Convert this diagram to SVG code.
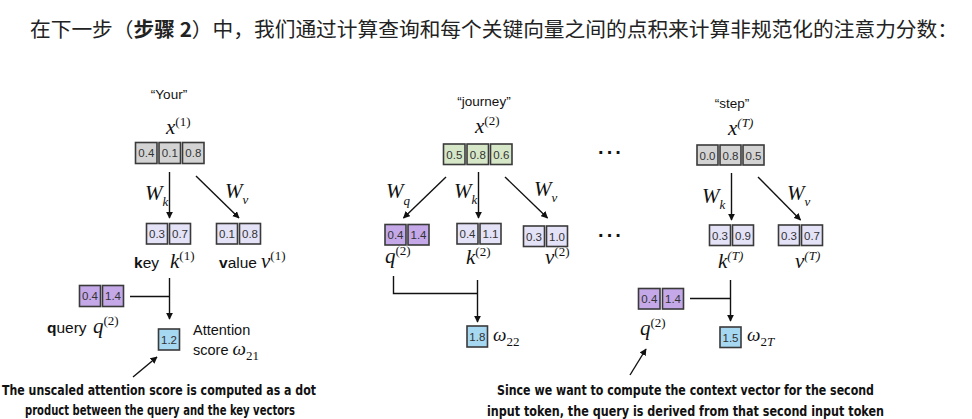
<svg xmlns="http://www.w3.org/2000/svg" width="972" height="419" viewBox="0 0 972 419">
<defs>
<marker id="ah" viewBox="0 0 10 10" refX="9" refY="5" markerWidth="7" markerHeight="7" markerUnits="userSpaceOnUse" orient="auto">
<path d="M0,0 L10,5 L0,10 z" fill="#111"/>
</marker>
<style>
.bx{stroke:#3a3a3a;stroke-width:1.6}
.gx{fill:#d3d3d3}
.gn{fill:#d6e7c8}
.lv{fill:#e4e2f7}
.qp{fill:#c4a8e8}
.bl{fill:#a6d8f2}
.bt{font-family:"Liberation Sans",Arial,sans-serif;font-size:11.5px;fill:#333;text-anchor:middle}
.m{font-family:"Liberation Serif","Times New Roman",serif;font-style:italic;font-size:21px;fill:#111}
.w{font-family:"Liberation Serif","Times New Roman",serif;font-style:italic;font-size:19px;fill:#111}
.sup{font-family:"Liberation Serif","Times New Roman",serif;font-style:normal;font-size:13px}
.supi{font-family:"Liberation Serif","Times New Roman",serif;font-style:italic;font-size:13px}
.sub{font-family:"Liberation Serif","Times New Roman",serif;font-style:italic;font-size:13px}
.lb{font-family:"Liberation Sans",Arial,sans-serif;font-size:15.5px;fill:#111}
.at{font-family:"Liberation Sans",Arial,sans-serif;font-size:14.5px;fill:#111}
.qt{font-family:"Liberation Sans",Arial,sans-serif;font-size:13.5px;fill:#111;text-anchor:middle}
.an{font-family:"DejaVu Sans Condensed","DejaVu Sans",sans-serif;font-weight:bold;font-size:14.5px;fill:#111;text-anchor:middle}
.cn{stroke:#111;stroke-width:1.4;fill:none}
.dot{font-family:"Liberation Sans",Arial,sans-serif;font-size:20px;font-weight:bold;fill:#111}
</style>
</defs>
<rect width="972" height="419" fill="#fff"/>
<text x="30" y="37" font-family="Noto Sans CJK SC, sans-serif" font-size="20" fill="#222" textLength="928" lengthAdjust="spacingAndGlyphs">在下一步（<tspan font-weight="bold">步骤 2</tspan>）中，我们通过计算查询和每个关键向量之间的点积来计算非规范化的注意力分数：</text>

<g id="connectors">
<line class="cn" x1="169.5" y1="172" x2="169.5" y2="218" marker-end="url(#ah)"/>
<line class="cn" x1="196" y1="176" x2="239" y2="218" marker-end="url(#ah)"/>
<polyline class="cn" points="130,296.5 169.5,296.5"/>
<line class="cn" x1="169.5" y1="278" x2="169.5" y2="319" marker-end="url(#ah)"/>
<line class="cn" x1="133" y1="377" x2="157" y2="357" marker-end="url(#ah)"/>
<line class="cn" x1="446" y1="177" x2="403.5" y2="218" marker-end="url(#ah)"/>
<line class="cn" x1="478.5" y1="172" x2="478.5" y2="218" marker-end="url(#ah)"/>
<line class="cn" x1="505" y1="177" x2="547.5" y2="218" marker-end="url(#ah)"/>
<polyline class="cn" points="393.5,276 393.5,293.5 477.5,293.5"/>
<line class="cn" x1="477.5" y1="280" x2="477.5" y2="322" marker-end="url(#ah)"/>
<line class="cn" x1="731.5" y1="173" x2="731.5" y2="220" marker-end="url(#ah)"/>
<line class="cn" x1="758" y1="177" x2="800.5" y2="220" marker-end="url(#ah)"/>
<polyline class="cn" points="690,298.5 730.5,298.5"/>
<line class="cn" x1="730.5" y1="280" x2="730.5" y2="321" marker-end="url(#ah)"/>
<line class="cn" x1="630" y1="375" x2="646" y2="349" marker-end="url(#ah)"/>
</g>

<g id="your">
<text class="qt" x="169" y="99">“Your”</text>
<text class="m" x="166" y="134">x<tspan class="sup" dy="-8">(1)</tspan></text>
<rect class="bx gx" x="135.5" y="142.5" width="21.5" height="21"/><text class="bt" x="146.3" y="157">0.4</text>
<rect class="bx gx" x="159" y="142.5" width="21.5" height="21"/><text class="bt" x="169.8" y="157">0.1</text>
<rect class="bx gx" x="182.5" y="142.5" width="21.5" height="21"/><text class="bt" x="193.3" y="157">0.8</text>
<text class="m" x="145" y="200">W<tspan class="sub" dy="6">k</tspan></text>
<text class="m" x="225" y="198">W<tspan class="sub" dy="6">v</tspan></text>
</g>

<g id="key1">
<rect class="bx lv" x="146.5" y="223.5" width="21" height="20.5"/><text class="bt" x="157" y="238">0.3</text>
<rect class="bx lv" x="169.5" y="223.5" width="21" height="20.5"/><text class="bt" x="180" y="238">0.7</text>
<text class="lb" x="134" y="268"><tspan font-weight="bold">k</tspan>ey</text>
<text class="m" x="170" y="268">k<tspan class="sup" dy="-8">(1)</tspan></text>
</g>

<g id="value1">
<rect class="bx lv" x="216.5" y="223.5" width="21" height="20.5"/><text class="bt" x="227" y="238">0.1</text>
<rect class="bx lv" x="239.5" y="223.5" width="21" height="20.5"/><text class="bt" x="250" y="238">0.8</text>
<text class="lb" x="219" y="268"><tspan font-weight="bold">v</tspan>alue</text>
<text class="m" x="261" y="268">v<tspan class="sup" dy="-8">(1)</tspan></text>
</g>

<g id="query-left">
<rect class="bx qp" x="79.5" y="285.5" width="21" height="21"/><text class="bt" x="90" y="300">0.4</text>
<rect class="bx qp" x="102.5" y="285.5" width="21" height="21"/><text class="bt" x="113" y="300">1.4</text>
<text class="lb" x="47" y="333"><tspan font-weight="bold">q</tspan>uery</text>
<text class="m" x="93" y="333">q<tspan class="sup" dy="-8">(2)</tspan></text>
</g>

<g id="score21">
<rect class="bx bl" x="158.5" y="329" width="21" height="21"/><text class="bt" x="169" y="343.5">1.2</text>
<text class="at" x="193" y="335">Attention</text>
<text class="at" x="193" y="355">score <tspan class="w">ω</tspan><tspan class="sup" dy="5">21</tspan></text>
</g>

<g id="note-left">
<text class="an" x="159" y="395" textLength="314" lengthAdjust="spacingAndGlyphs">The unscaled attention score is computed as a dot</text>
<text class="an" x="160" y="415" textLength="270" lengthAdjust="spacingAndGlyphs">product between the query and the key vectors</text>
</g>

<g id="journey">
<text class="qt" x="484" y="106">“journey”</text>
<text class="m" x="475" y="133">x<tspan class="sup" dy="-8">(2)</tspan></text>
<rect class="bx gn" x="443.5" y="144" width="21.5" height="20.5"/><text class="bt" x="454.3" y="158.5">0.5</text>
<rect class="bx gn" x="467" y="144" width="21.5" height="20.5"/><text class="bt" x="477.8" y="158.5">0.8</text>
<rect class="bx gn" x="490.5" y="144" width="21.5" height="20.5"/><text class="bt" x="501.3" y="158.5">0.6</text>
<text class="m" x="386" y="198">W<tspan class="sub" dy="7">q</tspan></text>
<text class="m" x="454" y="198">W<tspan class="sub" dy="6">k</tspan></text>
<text class="m" x="534" y="196">W<tspan class="sub" dy="6">v</tspan></text>
</g>

<g id="query2">
<rect class="bx qp" x="385" y="224.5" width="21" height="20.5"/><text class="bt" x="395.5" y="239">0.4</text>
<rect class="bx qp" x="408" y="224.5" width="21" height="20.5"/><text class="bt" x="418.5" y="239">1.4</text>
<text class="m" x="385" y="263">q<tspan class="sup" dy="-8">(2)</tspan></text>
</g>

<g id="key2">
<rect class="bx lv" x="457" y="223.5" width="21" height="20.5"/><text class="bt" x="467.5" y="238">0.4</text>
<rect class="bx lv" x="480" y="223.5" width="21" height="20.5"/><text class="bt" x="490.5" y="238">1.1</text>
<text class="m" x="466" y="264">k<tspan class="sup" dy="-8">(2)</tspan></text>
</g>

<g id="value2">
<rect class="bx lv" x="523.5" y="226" width="21" height="20.5"/><text class="bt" x="534" y="240.5">0.3</text>
<rect class="bx lv" x="546.5" y="226" width="21" height="20.5"/><text class="bt" x="557" y="240.5">1.0</text>
<text class="m" x="545" y="264">v<tspan class="sup" dy="-8">(2)</tspan></text>
</g>

<g id="score22">
<rect class="bx bl" x="467" y="326" width="20.5" height="21"/><text class="bt" x="477.3" y="340.5">1.8</text>
<text class="w" x="493" y="341">ω<tspan class="sup" dy="5">22</tspan></text>
</g>

<g id="ellipsis">
<text class="dot" x="598" y="159" letter-spacing="2">···</text>
<text class="dot" x="598" y="242" letter-spacing="2">···</text>
</g>

<g id="step">
<text class="qt" x="732" y="108">“step”</text>
<text class="m" x="728" y="135">x<tspan class="supi" dy="-8">(T)</tspan></text>
<rect class="bx gx" x="697" y="145" width="21" height="20"/><text class="bt" x="707.5" y="159.5">0.0</text>
<rect class="bx gx" x="720" y="145" width="21" height="20"/><text class="bt" x="730.5" y="159.5">0.8</text>
<rect class="bx gx" x="743" y="145" width="21" height="20"/><text class="bt" x="753.5" y="159.5">0.5</text>
<text class="m" x="702" y="203">W<tspan class="sub" dy="6">k</tspan></text>
<text class="m" x="787" y="200">W<tspan class="sub" dy="6">v</tspan></text>
</g>

<g id="keyT">
<rect class="bx lv" x="709.5" y="225" width="21" height="20.5"/><text class="bt" x="720" y="239.5">0.3</text>
<rect class="bx lv" x="732.5" y="225" width="21" height="20.5"/><text class="bt" x="743" y="239.5">0.9</text>
<text class="m" x="718" y="268">k<tspan class="supi" dy="-8">(T)</tspan></text>
</g>

<g id="valueT">
<rect class="bx lv" x="778.5" y="225" width="21" height="20.5"/><text class="bt" x="789" y="239.5">0.3</text>
<rect class="bx lv" x="801.5" y="225" width="21" height="20.5"/><text class="bt" x="812" y="239.5">0.7</text>
<text class="m" x="795" y="268">v<tspan class="supi" dy="-8">(T)</tspan></text>
</g>

<g id="query-right">
<rect class="bx qp" x="638.5" y="288.5" width="21.5" height="20.5"/><text class="bt" x="649.3" y="303">0.4</text>
<rect class="bx qp" x="662.5" y="288.5" width="21" height="20.5"/><text class="bt" x="673" y="303">1.4</text>
<text class="m" x="640" y="335">q<tspan class="sup" dy="-8">(2)</tspan></text>
</g>

<g id="score2T">
<rect class="bx bl" x="720" y="327" width="21" height="20.5"/><text class="bt" x="730.5" y="341.5">1.5</text>
<text class="w" x="747" y="341">ω<tspan class="sup" dy="5">2</tspan><tspan class="sub">T</tspan></text>
</g>

<g id="note-right">
<text class="an" x="685.5" y="395" textLength="377" lengthAdjust="spacingAndGlyphs">Since we want to compute the context vector for the second</text>
<text class="an" x="685.5" y="416" textLength="397" lengthAdjust="spacingAndGlyphs">input token, the query is derived from that second input token</text>
</g>
</svg>
